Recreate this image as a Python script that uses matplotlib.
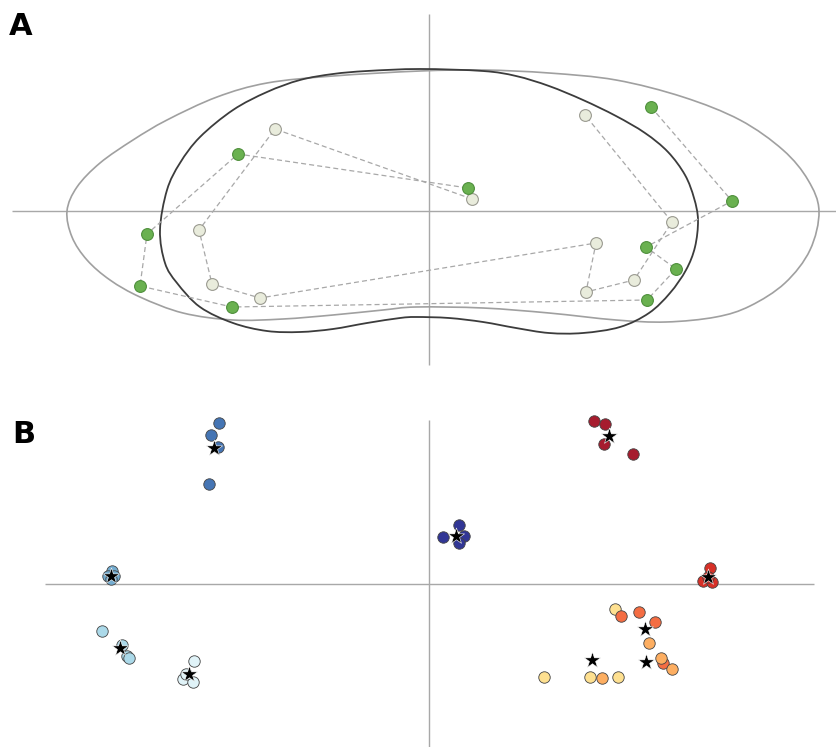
import numpy as np
import matplotlib
matplotlib.use("Agg")
import matplotlib.pyplot as plt
from matplotlib.path import Path
from matplotlib.patches import PathPatch

# ---------------- Panel A data ----------------
light_outline_x = [-3.62, -3.52, -3.29, -2.96, -2.62, -2.12, -1.62, -0.96, -0.09, 0.54, 1.20, 1.87,
                   2.54, 3.11, 3.54, 3.79, 3.90, 3.81, 3.56, 3.21, 2.87, 2.37, 1.87, 1.20, 0.54,
                   -0.13, -0.46, -0.96, -1.46, -1.96, -2.46, -2.89, -3.19, -3.42, -3.57]
light_outline_y = [0.00, 0.24, 0.48, 0.71, 0.91, 1.14, 1.28, 1.35, 1.40, 1.41, 1.38, 1.31,
                   1.14, 0.91, 0.61, 0.31, 0.00, -0.39, -0.72, -0.95, -1.06, -1.11, -1.09, -1.02, -0.97,
                   -0.96, -0.99, -1.04, -1.08, -1.09, -1.02, -0.86, -0.69, -0.49, -0.26]

dark_outline_x = [-2.69, -2.62, -2.49, -2.29, -1.96, -1.62, -1.29, -0.96, -0.62, -0.09, 0.54, 0.87,
                  1.20, 1.54, 1.87, 2.16, 2.39, 2.56, 2.65, 2.69, 2.66, 2.57, 2.41, 2.20, 1.91,
                  1.54, 1.20, 0.87, 0.54, 0.20, -0.13, -0.29, -0.62, -0.96, -1.29, -1.62, -1.96,
                  -2.29, -2.52, -2.64]
dark_outline_y = [-0.19, 0.21, 0.48, 0.74, 1.01, 1.19, 1.31, 1.37, 1.40, 1.42, 1.40, 1.35,
                  1.25, 1.11, 0.95, 0.78, 0.59, 0.36, 0.13, -0.09, -0.36, -0.59, -0.82, -1.02, -1.16,
                  -1.22, -1.22, -1.17, -1.11, -1.07, -1.06, -1.07, -1.12, -1.18, -1.21, -1.20, -1.12,
                  -0.96, -0.72, -0.52]

green_x = [2.22, 3.03, 2.17, 2.47, 2.18, -1.97, -2.89, -2.82, -1.91, 0.39]
green_y = [1.04, 0.10, -0.36, -0.58, -0.89, -0.96, -0.75, -0.23, 0.57, 0.23]

white_x = [0.43, -1.54, -2.30, -2.17, -1.69, 1.67, 1.57, 2.05, 2.43, 1.56]
white_y = [0.12, 0.82, -0.19, -0.73, -0.87, -0.32, -0.81, -0.69, -0.11, 0.96]

# ---------------- Panel B data ----------------
group_names = ["yellow", "orange", "light orange", "dark red", "red",
               "pale blue", "light blue", "mid blue", "blue", "dark blue"]
group_colors = ["#fee090", "#f46d43", "#fdae61", "#a61c2e", "#d73027",
                "#e0f3f8", "#abd9e9", "#74add1", "#4575b4", "#313695"]
group_x = [
    [1.86, 1.15, 1.61, 1.89],
    [1.92, 2.10, 2.26, 2.34],
    [2.20, 2.32, 2.43, 1.73],
    [1.65, 1.76, 1.75, 2.04],
    [2.81, 2.74, 2.83, 2.79],
    [-2.35, -2.46, -2.36, -2.43],
    [-3.27, -3.07, -3.02, -3.00],
    [-3.17, -3.21, -3.15, -3.18],
    [-2.10, -2.18, -2.11, -2.20],
    [0.14, 0.30, 0.35, 0.30],
]
group_y = [
    [-0.25, -0.93, -0.93, -0.93],
    [-0.32, -0.28, -0.38, -0.79],
    [-0.59, -0.74, -0.85, -0.94],
    [1.63, 1.60, 1.40, 1.30],
    [0.16, 0.03, 0.02, 0.07],
    [-0.77, -0.95, -0.98, -0.90],
    [-0.47, -0.61, -0.72, -0.74],
    [0.13, 0.08, 0.08, 0.05],
    [1.61, 1.49, 1.37, 1.00],
    [0.47, 0.59, 0.48, 0.41],
]


def smooth_closed_path(xs, ys):
    P = np.column_stack([xs, ys])
    n = len(P)
    verts = [P[0]]
    codes = [Path.MOVETO]
    for i in range(n):
        p0 = P[(i - 1) % n]
        p1 = P[i]
        p2 = P[(i + 1) % n]
        p3 = P[(i + 2) % n]
        c1 = p1 + (p2 - p0) / 6.0
        c2 = p2 - (p3 - p1) / 6.0
        verts += [c1, c2, p2]
        codes += [Path.CURVE4] * 3
    return Path(np.array(verts), codes)


W, H = 836, 747
fig = plt.figure(figsize=(W / 100, H / 100), dpi=100)
fig.patch.set_facecolor("white")

# Panel A axes: 100 px per unit, origin at pixel (429, 211)
axA = fig.add_axes([0, 367 / H, 1, 380 / H])
axA.set_xlim(-4.29, 4.07)
axA.set_ylim(-1.69, 2.11)
axA.axis("off")

axis_col = "#a8a8a8"
axA.hlines(0, -4.17, 4.07, color=axis_col, lw=1.0, zorder=1)
axA.vlines(0, -1.54, 1.97, color=axis_col, lw=1.0, zorder=1)

axA.add_patch(PathPatch(smooth_closed_path(light_outline_x, light_outline_y),
                        facecolor="none", edgecolor="#a0a0a0", lw=1.2, zorder=2))
axA.add_patch(PathPatch(smooth_closed_path(dark_outline_x, dark_outline_y),
                        facecolor="none", edgecolor="#3c3c3c", lw=1.3, zorder=2))

axA.plot(green_x, green_y, ls=(0, (4, 2.5)), color="#a8a8a8", lw=0.9, zorder=3)
axA.plot(white_x, white_y, ls=(0, (4, 2.5)), color="#a8a8a8", lw=0.9, zorder=3)
axA.scatter(white_x, white_y, s=72, facecolor="#e9ecdc", edgecolor="#9a9a90",
            linewidth=0.8, zorder=4)
axA.scatter(green_x, green_y, s=72, facecolor="#6ab150", edgecolor="#4f8f3c",
            linewidth=0.8, zorder=4)

# Panel B axes: 100 px per unit, origin at pixel (429, 584.3)
axB = fig.add_axes([0, 0, 1, 367 / H])
axB.set_xlim(-4.29, 4.07)
axB.set_ylim(-1.627, 2.043)
axB.axis("off")
axB.hlines(0, -3.84, 3.85, color=axis_col, lw=1.0, zorder=1)
axB.vlines(0, -1.627, 1.643, color=axis_col, lw=1.0, zorder=1)

for gx, gy, col in zip(group_x, group_y, group_colors):
    axB.scatter(gx, gy, s=68, facecolor=col, edgecolor="#444444", linewidth=0.6,
                zorder=3)
for gx, gy in zip(group_x, group_y):
    axB.scatter([np.mean(gx)], [np.mean(gy)], marker="*", s=150, color="black",
                edgecolor="white", linewidth=0.4, zorder=5)

fig.text(9 / W, 1 - 12 / H, "A", fontsize=22, fontweight="bold", va="top", ha="left",
         family="DejaVu Sans")
fig.text(12 / W, 1 - 420 / H, "B", fontsize=22, fontweight="bold", va="top", ha="left",
         family="DejaVu Sans")

fig.savefig("out.png", dpi=100, facecolor="white")
